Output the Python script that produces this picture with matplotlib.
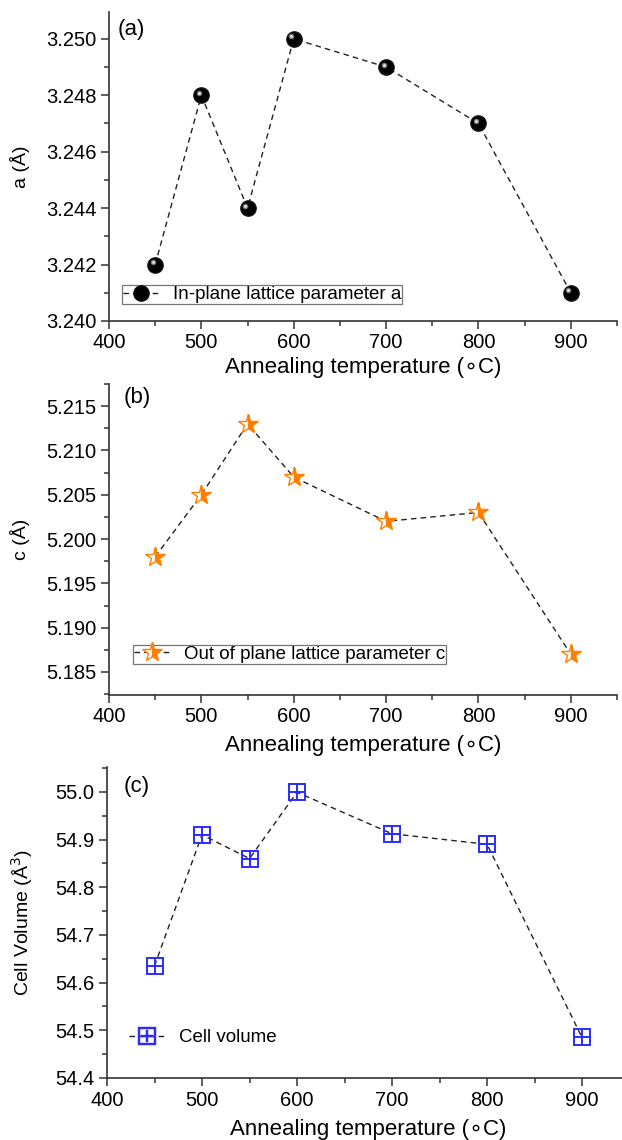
import numpy as np
import matplotlib
matplotlib.use('Agg')
import matplotlib.pyplot as plt
from matplotlib.ticker import MultipleLocator, FormatStrFormatter
from matplotlib.transforms import offset_copy

plt.rcParams['font.family'] = ['Liberation Sans', 'DejaVu Sans']

temps = [450, 500, 550, 600, 700, 800, 900]
a_param = [3.242, 3.248, 3.244, 3.250, 3.249, 3.247, 3.241]
c_param = [5.198, 5.205, 5.213, 5.207, 5.202, 5.203, 5.187]
cell_vol = [54.635, 54.910, 54.860, 54.999, 54.912, 54.890, 54.485]

xlabel = 'Annealing temperature (\u2218C)'

W, H = 622, 1140
fig = plt.figure(figsize=(W / 100, H / 100), dpi=100)


def px_axes(left, right, top, bottom):
    # pixel box -> figure fraction
    return fig.add_axes([left / W, (H - bottom) / H, (right - left) / W, (bottom - top) / H])


def style(ax, ymajor, yminor, fmt):
    for s in ['top', 'right']:
        ax.spines[s].set_visible(False)
    for s in ['left', 'bottom']:
        ax.spines[s].set_linewidth(1.2)
        ax.spines[s].set_color('#333333')
    ax.set_xlim(400, 950)
    ax.xaxis.set_major_locator(MultipleLocator(100))
    ax.xaxis.set_minor_locator(MultipleLocator(50))
    ax.yaxis.set_major_locator(MultipleLocator(ymajor))
    ax.yaxis.set_minor_locator(MultipleLocator(yminor))
    ax.yaxis.set_major_formatter(FormatStrFormatter(fmt))
    ax.tick_params(which='major', direction='out', length=6, width=1.1, color='#333333',
                   labelsize=14.5, pad=3)
    ax.tick_params(which='minor', direction='out', length=3.5, width=1.1, color='#333333')


def legend(ax, anchor, frame, loc='lower left'):
    lg = ax.legend(loc=loc, bbox_to_anchor=anchor, borderaxespad=0, frameon=frame,
                   fancybox=False, fontsize=13.5, handlelength=1.9, handletextpad=0.75,
                   borderpad=0.05, numpoints=1)
    if frame:
        lg.get_frame().set_edgecolor('#555555')
        lg.get_frame().set_linewidth(0.9)
    return lg


# (a) in-plane lattice parameter
ax1 = px_axes(109, 617, 12, 321)
ax1.plot(temps, a_param, ls=(0, (4, 3)), lw=1, color='#222222', marker='o', ms=11,
         mfc='black', mec='#111111', label='In-plane lattice parameter a')
hl = offset_copy(ax1.transData, fig=fig, x=-1.8, y=1.8, units='points')
ax1.plot(temps, a_param, ls='none', marker='o', ms=4, mfc='#9a9a9a', mec='none',
         alpha=0.8, transform=hl)
ax1.plot(temps, a_param, ls='none', marker='o', ms=2, mfc='#e8e8e8', mec='none',
         transform=hl)
ax1.set_ylim(3.240, 3.25095)
style(ax1, 0.002, 0.001, '%.3f')
ax1.set_ylabel('a (\u00c5)', fontsize=14)
ax1.yaxis.set_label_coords(-79 / 508, 0.5)
ax1.set_xlabel(xlabel, fontsize=16)
ax1.xaxis.set_label_coords(0.5, -47 / 309)
ax1.xaxis.label.set_va('center')
ax1.text(0.016, 0.942, '(a)', transform=ax1.transAxes, fontsize=16, va='center')
legend(ax1, (0.0256, 0.055), True)

# (b) out of plane lattice parameter
ax2 = px_axes(109, 617, 384, 695)
ax2.plot(temps, c_param, ls=(0, (4, 3)), lw=1, color='#222222', marker='*', ms=15,
         fillstyle='right', mfc='#ff8000', mfcalt='white', mec='#ff8000', mew=1,
         label='Out of plane lattice parameter c')
ax2.set_ylim(5.1824, 5.2175)
style(ax2, 0.005, 0.0025, '%.3f')
ax2.set_ylabel('c (\u00c5)', fontsize=14)
ax2.yaxis.set_label_coords(-79 / 508, 0.5)
ax2.set_xlabel(xlabel, fontsize=16)
ax2.xaxis.set_label_coords(0.5, -51 / 311)
ax2.xaxis.label.set_va('center')
ax2.text(0.028, 0.958, '(b)', transform=ax2.transAxes, fontsize=16, va='center')
legend(ax2, (0.047, 0.0997), True)

# (c) cell volume
ax3 = px_axes(107, 629.5, 767, 1078)
ax3.plot(temps, cell_vol, ls=(0, (4, 3)), lw=1, color='#222222', marker='s', ms=12,
         mfc='none', mec='#2b2bff', mew=1.4)
ax3.plot(temps, cell_vol, ls='none', marker='+', ms=12, mec='#2b2bff', mew=1.4)
ax3.plot([], [], ls=(0, (4, 3)), lw=1, color='#222222', marker='$\u229e$', ms=13,
         mec='#2b2bff', mfc='#2b2bff', mew=0.3, label='Cell volume')
ax3.set_ylim(54.4, 55.052)
style(ax3, 0.1, 0.05, '%.1f')
ax3.set_ylabel('Cell Volume (\u00c5$^3$)', fontsize=14)
ax3.yaxis.set_label_coords(-72 / 522, 0.5)
ax3.set_xlabel(xlabel, fontsize=16)
ax3.xaxis.set_label_coords(0.5, -52 / 311)
ax3.xaxis.label.set_va('center')
ax3.text(0.031, 0.936, '(c)', transform=ax3.transAxes, fontsize=16, va='center')
legend(ax3, (0.04, 0.129), False, loc='center left')

fig.savefig('out.png', dpi=100)
